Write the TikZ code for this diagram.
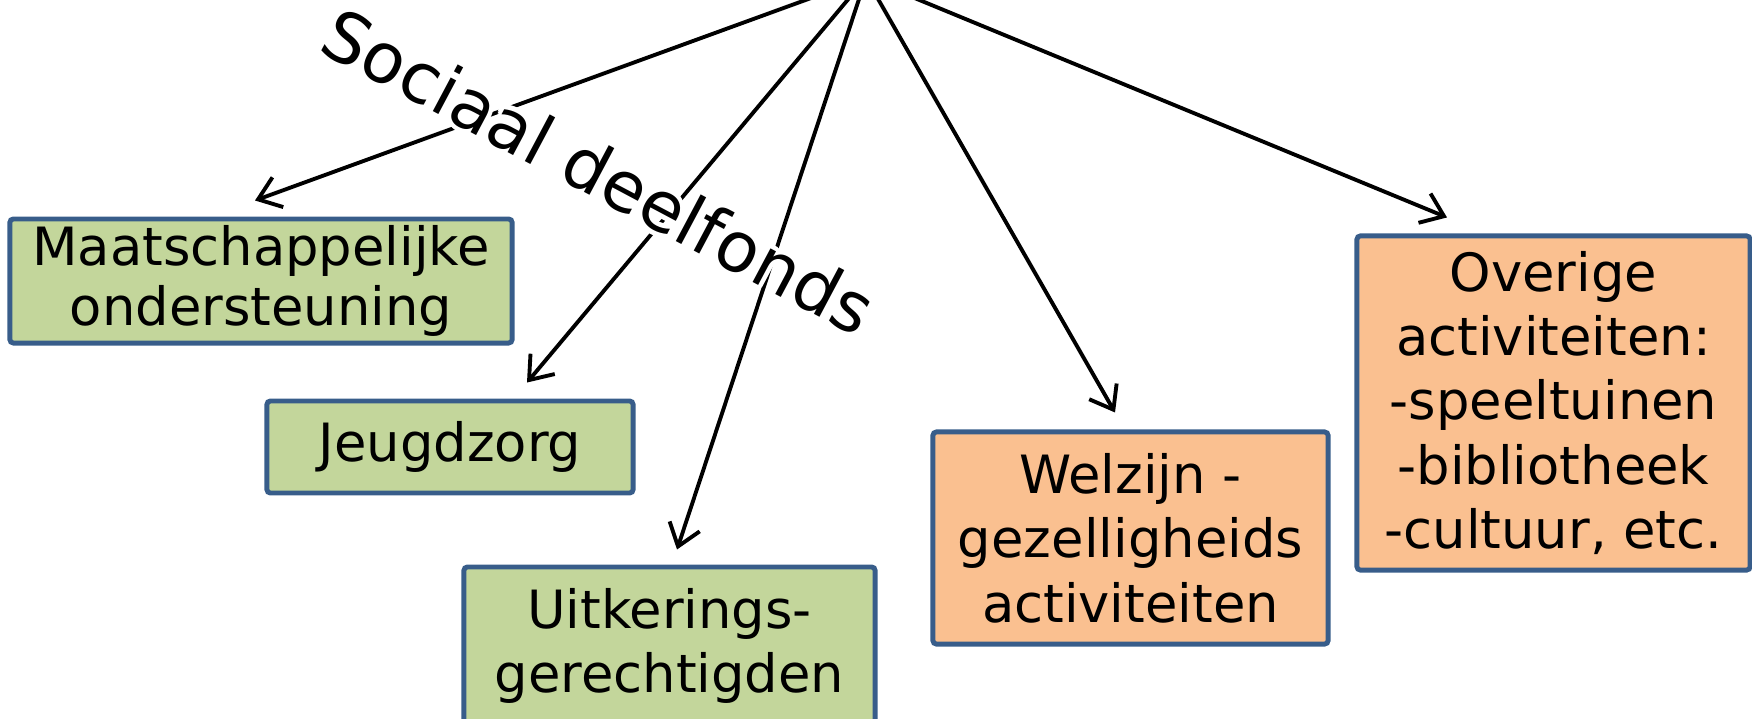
\documentclass[tikz,border=0pt]{standalone}
\usepackage{fontspec}
\setmainfont{DejaVu Sans}
\usepackage{contour}
\usetikzlibrary{arrows.meta}
\definecolor{verdecaja}{HTML}{C3D69B}
\definecolor{naranjacaja}{HTML}{FAC090}
\definecolor{bordecaja}{HTML}{385D8A}
\contourlength{1.3pt}
\contournumber{16}

\begin{document}
\begin{tikzpicture}[x=0.01cm, y=-0.01cm,
    caja/.style={draw=bordecaja, line width=1.4pt, rounded corners=1pt,
      align=center, inner sep=0pt, font=\fontsize{15}{18.3}\selectfont},
    verde/.style={caja, fill=verdecaja},
    naranja/.style={caja, fill=naranjacaja},
    flecha/.style={-{Straight Barb[length=6pt,width=9pt]}, line width=1.1pt}]
  \clip (0,0) rectangle (1752,718);

  % Punto de partida (fuera del cuadro)
  \coordinate (origen) at (866,-22);

  % Cajas verdes
  \node[verde, minimum width=5.02cm, minimum height=1.24cm,
    font=\fontsize{15}{17}\selectfont] (maat) at (261,281)
    {Maatschappelijke\\ondersteuning};
  \node[verde, minimum width=3.66cm, minimum height=0.92cm] (jeugd) at (450,447)
    {Jeugdzorg};
  \node[verde, minimum width=4.11cm, minimum height=1.58cm] (uitk) at (669.5,646)
    {Uitkerings-\\gerechtigden};

  % Cajas naranjas
  \node[naranja, minimum width=3.95cm, minimum height=2.12cm] (welz) at (1130.5,538)
    {Welzijn -\\gezelligheids\\activiteiten};
  \node[naranja, minimum width=3.93cm, minimum height=3.34cm] (overig) at (1553.5,403)
    {Overige\\activiteiten:\\-speeltuinen\\-bibliotheek\\-cultuur, etc.};

  % Flechas
  \draw[flecha] (origen) -- ([shift={(-6,-16)}]maat.north);
  \draw[flecha] (origen) -- ([shift={(77,-16)}]jeugd.north);
  \draw[flecha] (origen) -- ([shift={(7.5,-15)}]uitk.north);
  \draw[flecha] (origen) -- ([shift={(-15.5,-17)}]welz.north);
  \draw[flecha] (origen) -- ([shift={(-106.5,-16)}]overig.north);

  % Titulo inclinado
  \node[rotate=-28, font=\fontsize{19.8}{22}\selectfont] (titulo) at (598,173)
    {\contour{white}{Sociaal deelfonds}};
\end{tikzpicture}
\end{document}
